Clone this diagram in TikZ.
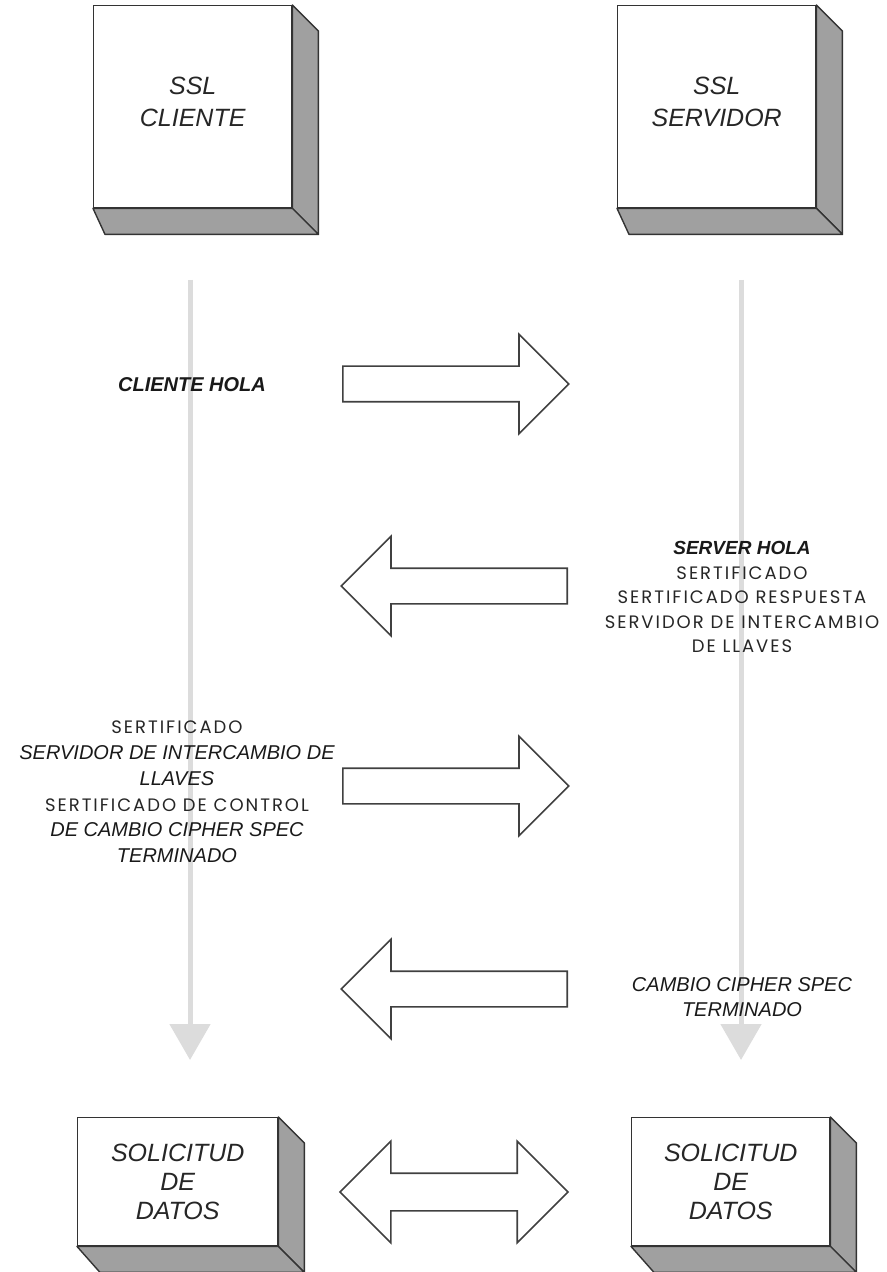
\documentclass[tikz,border=0pt]{standalone}
\usepackage{fontspec}
\setmainfont{Liberation Sans}
\newfontfamily\handfont{Poppins}[LetterSpace=11]
\usetikzlibrary{shapes.arrows, arrows.meta}

\definecolor{sidegray}{HTML}{A0A0A0}
\definecolor{flowgray}{HTML}{DCDCDC}
\definecolor{edgegray}{HTML}{333333}
\newcommand\hand{\handfont\upshape\mdseries\fontsize{9}{12}\selectfont\color{black!85}}

\begin{document}
\begin{tikzpicture}[
    x=0.5pt, y=-0.5pt,
    box/.style={rectangle, draw=edgegray, line width=0.7pt, fill=white, anchor=north west, align=center, inner sep=0pt, text=black!85, font=\fontsize{12.5}{16}\selectfont\itshape},
    side/.style={fill=sidegray, draw=edgegray, line width=0.7pt, line join=round},
    flow/.style={draw=flowgray, line width=2.5pt, -{Triangle[width=20pt,length=18pt]}},
    msg/.style={single arrow, draw=black!75, line width=0.8pt, fill=white, minimum height=113pt, text height=17pt, text depth=0pt, inner sep=0pt, single arrow head extend=16pt, single arrow tip angle=90, anchor=tail},
    dmsg/.style={double arrow, draw=black!75, line width=0.8pt, fill=white, minimum height=114pt, text height=18pt, text depth=0pt, inner sep=0pt, double arrow head extend=16pt, double arrow tip angle=90},
    lbl/.style={align=center, inner sep=0pt, text=black!90},
]
\useasboundingbox (0,0) rectangle (887,1272);

% Flow lines
\coordinate (cliTop) at (190,280);
\coordinate (cliEnd) at (190,1060);
\coordinate (srvTop) at (741,280);
\coordinate (srvEnd) at (741,1060);
\draw[flow] (cliTop) -- (cliEnd);
\draw[flow] (srvTop) -- (srvEnd);

% Boxes
\node[box, minimum width=99pt, minimum height=101pt] (cli) at (93,5) {SSL\\CLIENTE\\[-11pt]};
\node[box, minimum width=99pt, minimum height=101pt] (srv) at (617,5) {SSL\\SERVIDOR\\[-11pt]};
\node[box, minimum width=100pt, minimum height=64pt, font=\fontsize{12.5}{14.5}\selectfont\itshape] (solc) at (77,1117) {SOLICITUD\\DE\\DATOS};
\node[box, minimum width=99pt, minimum height=64pt, font=\fontsize{12.5}{14.5}\selectfont\itshape] (sols) at (631,1117) {SOLICITUD\\DE\\DATOS};

% 3D sides
\foreach \b/\k in {cli/12, srv/12, solc/23, sols/23} {
  \filldraw[side] (\b.north east) -- ([shift={(26,26)}]\b.north east) -- ([shift={(26,26)}]\b.south east) -- (\b.south east) -- cycle;
  \filldraw[side] (\b.south west) -- ([shift={(\k,26)}]\b.south west) -- ([shift={(26,26)}]\b.south east) -- (\b.south east) -- cycle;
}

% Messages
\node[msg] (hello) at (342,384) {};
\node[msg, shape border rotate=180] (reply) at (568,586) {};
\node[msg] (keyx) at (342,786) {};
\node[msg, shape border rotate=180] (done) at (568,989) {};
\node[dmsg] (data) at (454,1192) {};

% Labels
\node[lbl, font=\fontsize{10}{12}\selectfont\bfseries\itshape] (helloTxt) at (192,385) {CLIENTE HOLA};
\node[lbl, font=\fontsize{9.5}{12.25}\selectfont\itshape] (replyTxt) at (742,597)
  {{\bfseries SERVER HOLA}\\ {\hand SERTIFICADO}\\ {\hand SERTIFICADO RESPUESTA}\\ {\hand SERVIDOR DE INTERCAMBIO}\\ {\hand DE LLAVES}};
\node[lbl, font=\fontsize{10}{12.9}\selectfont\itshape] (keyxTxt) at (177,792)
  {{\hand SERTIFICADO}\\ SERVIDOR DE INTERCAMBIO DE\\ LLAVES\\ {\hand SERTIFICADO DE CONTROL}\\ DE CAMBIO CIPHER SPEC\\ TERMINADO};
\node[lbl, font=\fontsize{10}{12.5}\selectfont\itshape] (doneTxt) at (742,997) {CAMBIO CIPHER SPEC\\ TERMINADO};

\end{tikzpicture}
\end{document}
